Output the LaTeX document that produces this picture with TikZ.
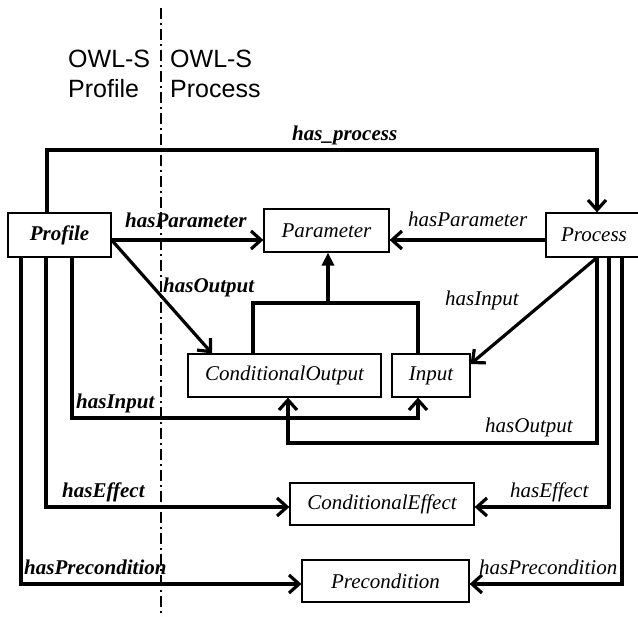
\documentclass[tikz,border=0pt]{standalone}
\usepackage{fontspec}
\setmainfont{Liberation Serif}
\newfontfamily\owlsans{Liberation Sans}
\usetikzlibrary{arrows.meta}

\begin{document}
\begin{tikzpicture}[x=1pt,y=-1pt,
  box/.style={draw, line width=1.2pt, inner sep=0pt,
    font=\fontsize{21}{25}\selectfont\itshape},
  rel/.style={line width=3.2pt, line join=miter,
    -{Straight Barb[length=10pt,width=18pt,line width=3.2pt]}},
  plain/.style={line width=3.2pt, line join=miter},
  lab/.style={anchor=base west, inner sep=0pt,
    font=\fontsize{21}{25}\selectfont\itshape},
  blab/.style={anchor=base west, inner sep=0pt,
    font=\fontsize{21}{25}\selectfont\bfseries\itshape},
  head/.style={anchor=base west, inner sep=0pt,
    font=\fontsize{25}{30}\selectfont\owlsans},
]
\useasboundingbox (0,0) rectangle (638,617);

% column headings
\node[head] (hp1) at (68,68) {OWL-S};
\node[head] (hp2) at (68,98) {Profile};
\node[head] (hq1) at (170,68) {OWL-S};
\node[head] (hq2) at (170,98) {Process};

% classes
\node[box, minimum width=103pt, minimum height=44pt, font=\fontsize{21}{25}\selectfont\bfseries\itshape]
  (Profile) at (59.5,235) {Profile};
\node[box, minimum width=125pt, minimum height=43pt] (Parameter) at (326.5,230.5) {Parameter};
\node[box, minimum width=96pt, minimum height=44pt] (Process) at (594,235) {Process};
\node[box, minimum width=193pt, minimum height=43pt] (COut) at (284.5,375.5) {ConditionalOutput};
\node[box, minimum width=78pt, minimum height=43pt] (Input) at (431,375.5) {Input};
\node[box, minimum width=184pt, minimum height=42pt] (CEff) at (382,504) {ConditionalEffect};
\node[box, minimum width=167pt, minimum height=42pt] (Precond) at (385.5,581) {Precondition};

% Profile -> Process
\draw[rel] (Profile.north -| 47,0) |- (597,150) -- (Process.north -| 597,0);
\node[blab] (lhp) at (292,141) {has\_process};

% parameters
\draw[rel] (Profile.east |- 0,240) -- (Parameter.west |- 0,240);
\node[blab] (lpp) at (125,228) {hasParameter};
\draw[rel] (Process.west |- 0,240) -- (Parameter.east |- 0,240);
\node[lab] (lqp) at (408,227) {hasParameter};

% subclasses of Parameter
\draw[plain] (COut.north -| 253,0) -- (253,303) -- (418,303) -- (Input.north -| 418,0);
\coordinate (jn) at (328,303);
\draw[line width=3.2pt, -{Triangle[length=13pt,width=12pt]}]
  (jn) -- (Parameter.south -| jn);

% outputs
\draw[rel] (Profile.east |- 0,240) -- (COut.north -| 212,0);
\node[blab] (lpo) at (163,293) {hasOutput};
\draw[rel] (Process.south -| 597,0) |- (288,443) -- (COut.south -| 288,0);
\node[lab] (lqo) at (485,433) {hasOutput};

% inputs
\draw[rel] (Process.south -| 597,0) -- (Input.east |- 0,364);
\node[lab] (lqi) at (445,306) {hasInput};
\draw[rel] (Profile.south -| 72,0) |- (418,418) -- (Input.south -| 418,0);
\node[blab] (lpi) at (76,409) {hasInput};

% effects
\draw[rel] (Profile.south -| 46,0) |- (CEff.west |- 0,507);
\node[blab] (lpe) at (62,498) {hasEffect};
\draw[rel] (Process.south -| 609,0) |- (CEff.east |- 0,507);
\node[lab] (lqe) at (510,498) {hasEffect};

% preconditions
\draw[rel] (Profile.south -| 21,0) |- (Precond.west |- 0,584);
\node[blab] (lppc) at (24,575) {hasPrecondition};
\draw[rel] (Process.south -| 622,0) |- (Precond.east |- 0,584);
\node[lab] (lqpc) at (479,575) {hasPrecondition};

% boundary between the two ontologies
\draw[line width=2.2pt, dash pattern=on 11pt off 4pt on 2pt off 4pt] (161,8) -- (161,617);
\end{tikzpicture}
\end{document}
